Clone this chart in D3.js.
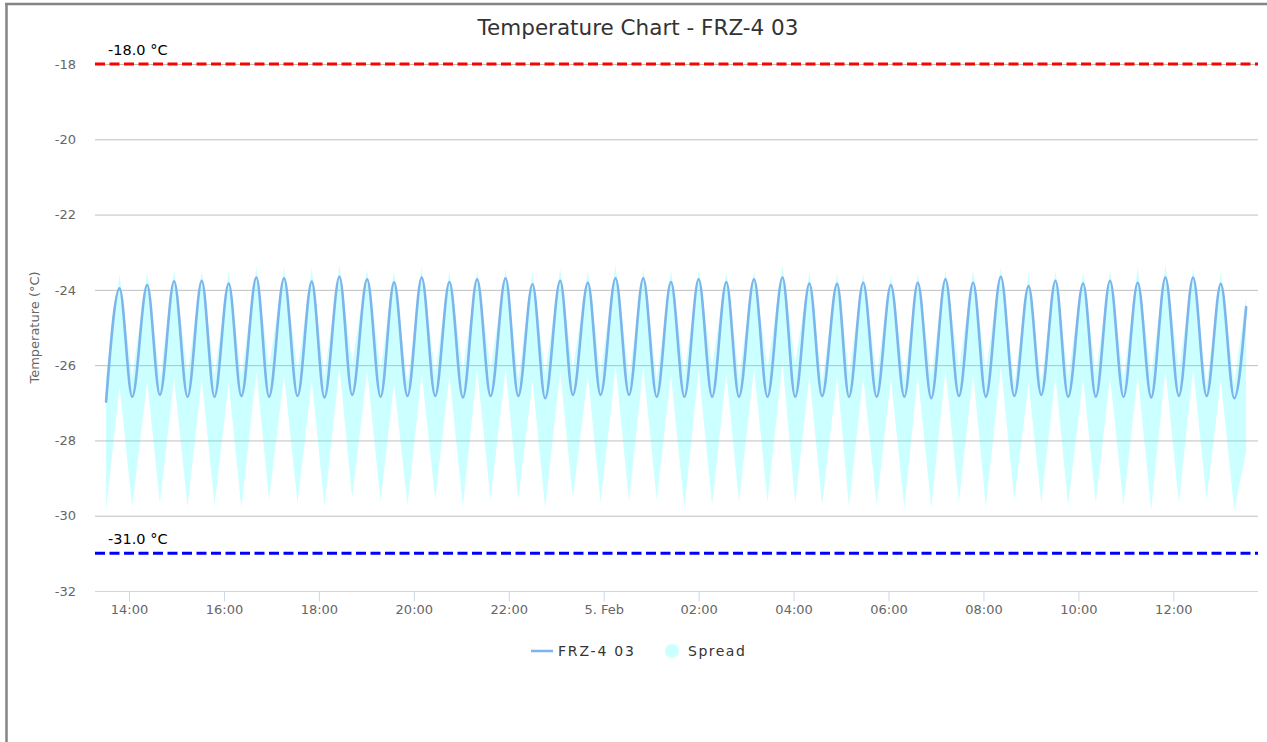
<!DOCTYPE html>
<html lang="en">
<head>
<meta charset="utf-8">
<title>Temperature Chart - FRZ-4 03</title>
<script src="https://d3js.org/d3.v7.min.js"></script>
<style>
html,body {margin:0; padding:0; background:#fff; overflow:hidden;}
svg {display:block; font-family:"DejaVu Sans", Verdana, sans-serif;}
</style>
</head>
<body>
<script>
var chartTitle = 'Temperature Chart - FRZ-4 03'
var yTitle = 'Temperature (°C)'
var seriesName = 'FRZ-4 03'
var spreadName = 'Spread'
var yTicks = [-32, -30, -28, -26, -24, -22, -20, -18]
var yDomain = [-32, -18]
var xDomain = ['2021-02-04 13:17', '2021-02-05 13:47']
var limitValues = [-18, -31]
var limitLabels = ['-18.0 °C', '-31.0 °C']
var limitColors = ['#ff0000', '#0000ff']

// first / last sample  [time, value, spreadHi, spreadLo]
var firstPoint = ['2021-02-04 13:31', -26.97, -26.30, -29.85]
var lastPoint = ['2021-02-05 13:32', -24.46, -24.20, -28.30]

var peakTimes = ['13:48','14:23','14:57','15:32','16:06','16:41','17:16','17:51','18:26','19:01',
  '19:35','20:10','20:45','21:20','21:56','22:30','23:05','23:40','00:15','00:50',
  '01:25','02:00','02:35','03:10','03:46','04:20','04:55','05:28','06:03','06:37',
  '07:12','07:47','08:22','08:57','09:31','10:06','10:40','11:15','11:50','12:25','13:00']
var peakVals = [-23.96,-23.87,-23.77,-23.76,-23.83,-23.67,-23.69,-23.78,-23.65,-23.72,
  -23.80,-23.67,-23.79,-23.72,-23.69,-23.85,-23.76,-23.81,-23.69,-23.69,
  -23.79,-23.72,-23.79,-23.72,-23.67,-23.83,-23.84,-23.81,-23.87,-23.81,
  -23.72,-23.81,-23.65,-23.90,-23.76,-23.83,-23.76,-23.81,-23.67,-23.67,-23.84]
var troughTimes = ['14:04','14:39','15:14','15:48','16:22','16:57','17:33','18:07','18:42','19:18',
  '19:52','20:27','21:02','21:37','22:12','22:46','23:21','23:56','00:32','01:07',
  '01:42','02:17','02:51','03:27','04:02','04:36','05:10','05:45','06:20','06:54',
  '07:29','08:03','08:39','09:13','09:47','10:22','10:57','11:32','12:07','12:42','13:17']
var troughVals = [-26.84,-26.79,-26.84,-26.84,-26.82,-26.84,-26.82,-26.86,-26.79,-26.84,
  -26.82,-26.82,-26.86,-26.82,-26.82,-26.88,-26.79,-26.79,-26.79,-26.84,
  -26.84,-26.84,-26.84,-26.84,-26.84,-26.82,-26.84,-26.84,-26.84,-26.88,
  -26.82,-26.84,-26.82,-26.79,-26.84,-26.84,-26.84,-26.86,-26.82,-26.82,-26.88]

// spread band (min/max) at the same instants
var spreadHiPeak = [-23.59,-23.52,-23.46,-23.48,-23.48,-23.40,-23.40,-23.42,-23.34,-23.46,
  -23.48,-23.40,-23.48,-23.48,-23.43,-23.52,-23.43,-23.48,-23.34,-23.43,
  -23.48,-23.48,-23.52,-23.48,-23.34,-23.52,-23.55,-23.55,-23.59,-23.55,
  -23.46,-23.48,-23.40,-23.55,-23.48,-23.52,-23.48,-23.40,-23.34,-23.43,-23.52]
var spreadLoPeak = [-26.57,-26.44,-26.36,-26.36,-26.48,-26.17,-26.27,-26.40,-26.04,-26.17,
  -26.48,-26.22,-26.27,-26.13,-26.08,-26.40,-26.17,-26.27,-26.04,-26.04,
  -26.27,-26.13,-26.22,-26.08,-25.95,-26.27,-26.27,-26.31,-26.36,-26.27,
  -26.13,-26.22,-26.04,-26.48,-26.31,-26.36,-26.31,-26.27,-26.13,-26.08,-26.40]
var spreadHiTrough = [-26.31,-26.36,-26.22,-26.27,-26.31,-26.04,-26.13,-26.27,-25.95,-26.13,
  -26.48,-26.22,-26.13,-26.08,-26.36,-26.22,-26.13,-26.22,-26.31,-26.36,
  -26.22,-26.04,-26.31,-26.08,-25.95,-26.44,-26.22,-26.27,-26.31,-26.31,
  -26.08,-26.13,-26.48,-26.48,-26.31,-26.22,-26.36,-26.27,-26.13,-26.53,-26.48]
var spreadLoTrough = [-29.76,-29.67,-29.76,-29.72,-29.80,-29.58,-29.67,-29.76,-29.54,-29.63,
  -29.72,-29.58,-29.76,-29.58,-29.58,-29.80,-29.54,-29.67,-29.63,-29.58,
  -29.80,-29.72,-29.63,-29.63,-29.67,-29.72,-29.76,-29.72,-29.80,-29.80,
  -29.63,-29.76,-29.58,-29.67,-29.72,-29.67,-29.72,-29.85,-29.67,-29.58,-29.85]

var W = 1267, H = 742
var plot = {left: 95, right: 1258, top: 64, bottom: 591}
var FONT = '"DejaVu Sans", Verdana, sans-serif'
var parse = d3.timeParse('%Y-%m-%d %H:%M')

// clock times -> dates, rolling over to the next day at midnight
function toDates(list) {
  let day = 4, prev = 0
  return list.map(function(s) {
    let h = +s.slice(0, 2)
    if (h < prev) day++
    prev = h
    return parse('2021-02-0' + day + ' ' + s)
  })
}

function buildData() {
  let pt = toDates(peakTimes), tt = toDates(troughTimes)
  let line = [], spread = []
  line.push([parse(firstPoint[0]), firstPoint[1]])
  spread.push([parse(firstPoint[0]), firstPoint[2], firstPoint[3]])
  for (let i = 0; i < pt.length; i++) {
    line.push([pt[i], peakVals[i]])
    line.push([tt[i], troughVals[i]])
    spread.push([pt[i], spreadHiPeak[i], spreadLoPeak[i]])
    spread.push([tt[i], spreadHiTrough[i], spreadLoTrough[i]])
  }
  line.push([parse(lastPoint[0]), lastPoint[1]])
  spread.push([parse(lastPoint[0]), lastPoint[2], lastPoint[3]])
  return {line: line, spread: spread}
}

function draw() {
  let data = buildData()
  let svg = d3.select('body').append('svg').attr('width', W).attr('height', H)

  // outer frame (top and left edges visible)
  svg.append('line').attr('x1', 5).attr('x2', W).attr('y1', 4).attr('y2', 4)
    .attr('stroke', '#858585').attr('stroke-width', 2.5)
  svg.append('line').attr('x1', 6.5).attr('x2', 6.5).attr('y1', 3).attr('y2', H)
    .attr('stroke', '#858585').attr('stroke-width', 2.5)

  let x = d3.scaleTime().domain(xDomain.map(parse)).range([plot.left, plot.right])
  let y = d3.scaleLinear().domain(yDomain).range([plot.bottom, plot.top])

  svg.append('text').attr('x', 638).attr('y', 35).attr('text-anchor', 'middle')
    .attr('fill', '#333').style('font-size', '21.5px').text(chartTitle)

  // grid
  svg.append('g').selectAll('line').data(yTicks.filter(function(d){return d !== yDomain[0]}))
    .join('line')
    .attr('x1', plot.left).attr('x2', plot.right)
    .attr('y1', function(d){return y(d) + 0.5}).attr('y2', function(d){return y(d) + 0.5})
    .attr('stroke', '#c0c0c0').attr('stroke-width', 1)

  // y labels
  let yAxis = d3.axisLeft(y).tickValues(yTicks).tickSize(0).tickPadding(19)
    .tickFormat(function(d){return String(d)})
  let yg = svg.append('g').attr('transform', 'translate(' + plot.left + ',0)').call(yAxis)
    .attr('font-family', FONT).attr('font-size', 13)
  yg.select('.domain').remove()
  yg.selectAll('text').attr('fill', '#666')

  svg.append('text').attr('transform', 'translate(39,' + ((plot.top + plot.bottom) / 2) + ') rotate(-90)')
    .attr('text-anchor', 'middle').attr('fill', '#666').style('font-size', '13px').text(yTitle)

  // spread
  let area = d3.area()
    .x(function(d){return x(d[0])})
    .y0(function(d){return y(d[2])})
    .y1(function(d){return y(d[1])})
  svg.append('path').datum(data.spread).attr('d', area)
    .attr('fill', '#00ffff').attr('fill-opacity', 0.2)

  // series line
  let line = d3.line()
    .x(function(d){return x(d[0])})
    .y(function(d){return y(d[1])})
    .curve(d3.curveMonotoneX)
  svg.append('path').datum(data.line).attr('d', line)
    .attr('fill', 'none').attr('stroke', '#7cb5ec').attr('stroke-width', 2.6)
    .attr('stroke-linejoin', 'round').attr('stroke-linecap', 'round')

  // limit lines
  limitValues.forEach(function(v, i) {
    svg.append('line').attr('x1', plot.left).attr('x2', plot.right)
      .attr('y1', y(v)).attr('y2', y(v))
      .attr('stroke', limitColors[i]).attr('stroke-width', 3).attr('stroke-dasharray', '10,4.5')
    svg.append('text').attr('x', 108).attr('y', y(v) - 9)
      .attr('fill', '#000').style('font-size', '14.5px').text(limitLabels[i])
  })

  // x axis
  let xAxis = d3.axisBottom(x).ticks(d3.timeHour.every(2)).tickSize(10).tickPadding(3)
    .tickFormat(function(d) {
      return d.getHours() === 0 ? d3.timeFormat('%-d. %b')(d) : d3.timeFormat('%H:%M')(d)
    })
  let xg = svg.append('g').attr('transform', 'translate(0,' + (plot.bottom + 0.5) + ')').call(xAxis)
    .attr('font-family', FONT).attr('font-size', 13)
  xg.select('.domain').attr('stroke', '#ccd6eb').attr('d', 'M' + plot.left + ',0H' + plot.right)
  xg.selectAll('.tick line').attr('stroke', '#ccd6eb')
  xg.selectAll('text').attr('fill', '#666')

  // legend
  let lg = svg.append('g').style('font-size', '14px').attr('fill', '#333')
  lg.append('line').attr('x1', 531).attr('x2', 553).attr('y1', 651).attr('y2', 651)
    .attr('stroke', '#7cb5ec').attr('stroke-width', 2.5)
  lg.append('text').attr('x', 558).attr('y', 656).style('letter-spacing', '1.8px').text(seriesName)
  lg.append('circle').attr('cx', 672).attr('cy', 651).attr('r', 7).attr('fill', '#ccffff')
  lg.append('text').attr('x', 688).attr('y', 656).style('letter-spacing', '1.5px').text(spreadName)
}

draw()
</script>
</body>
</html>
